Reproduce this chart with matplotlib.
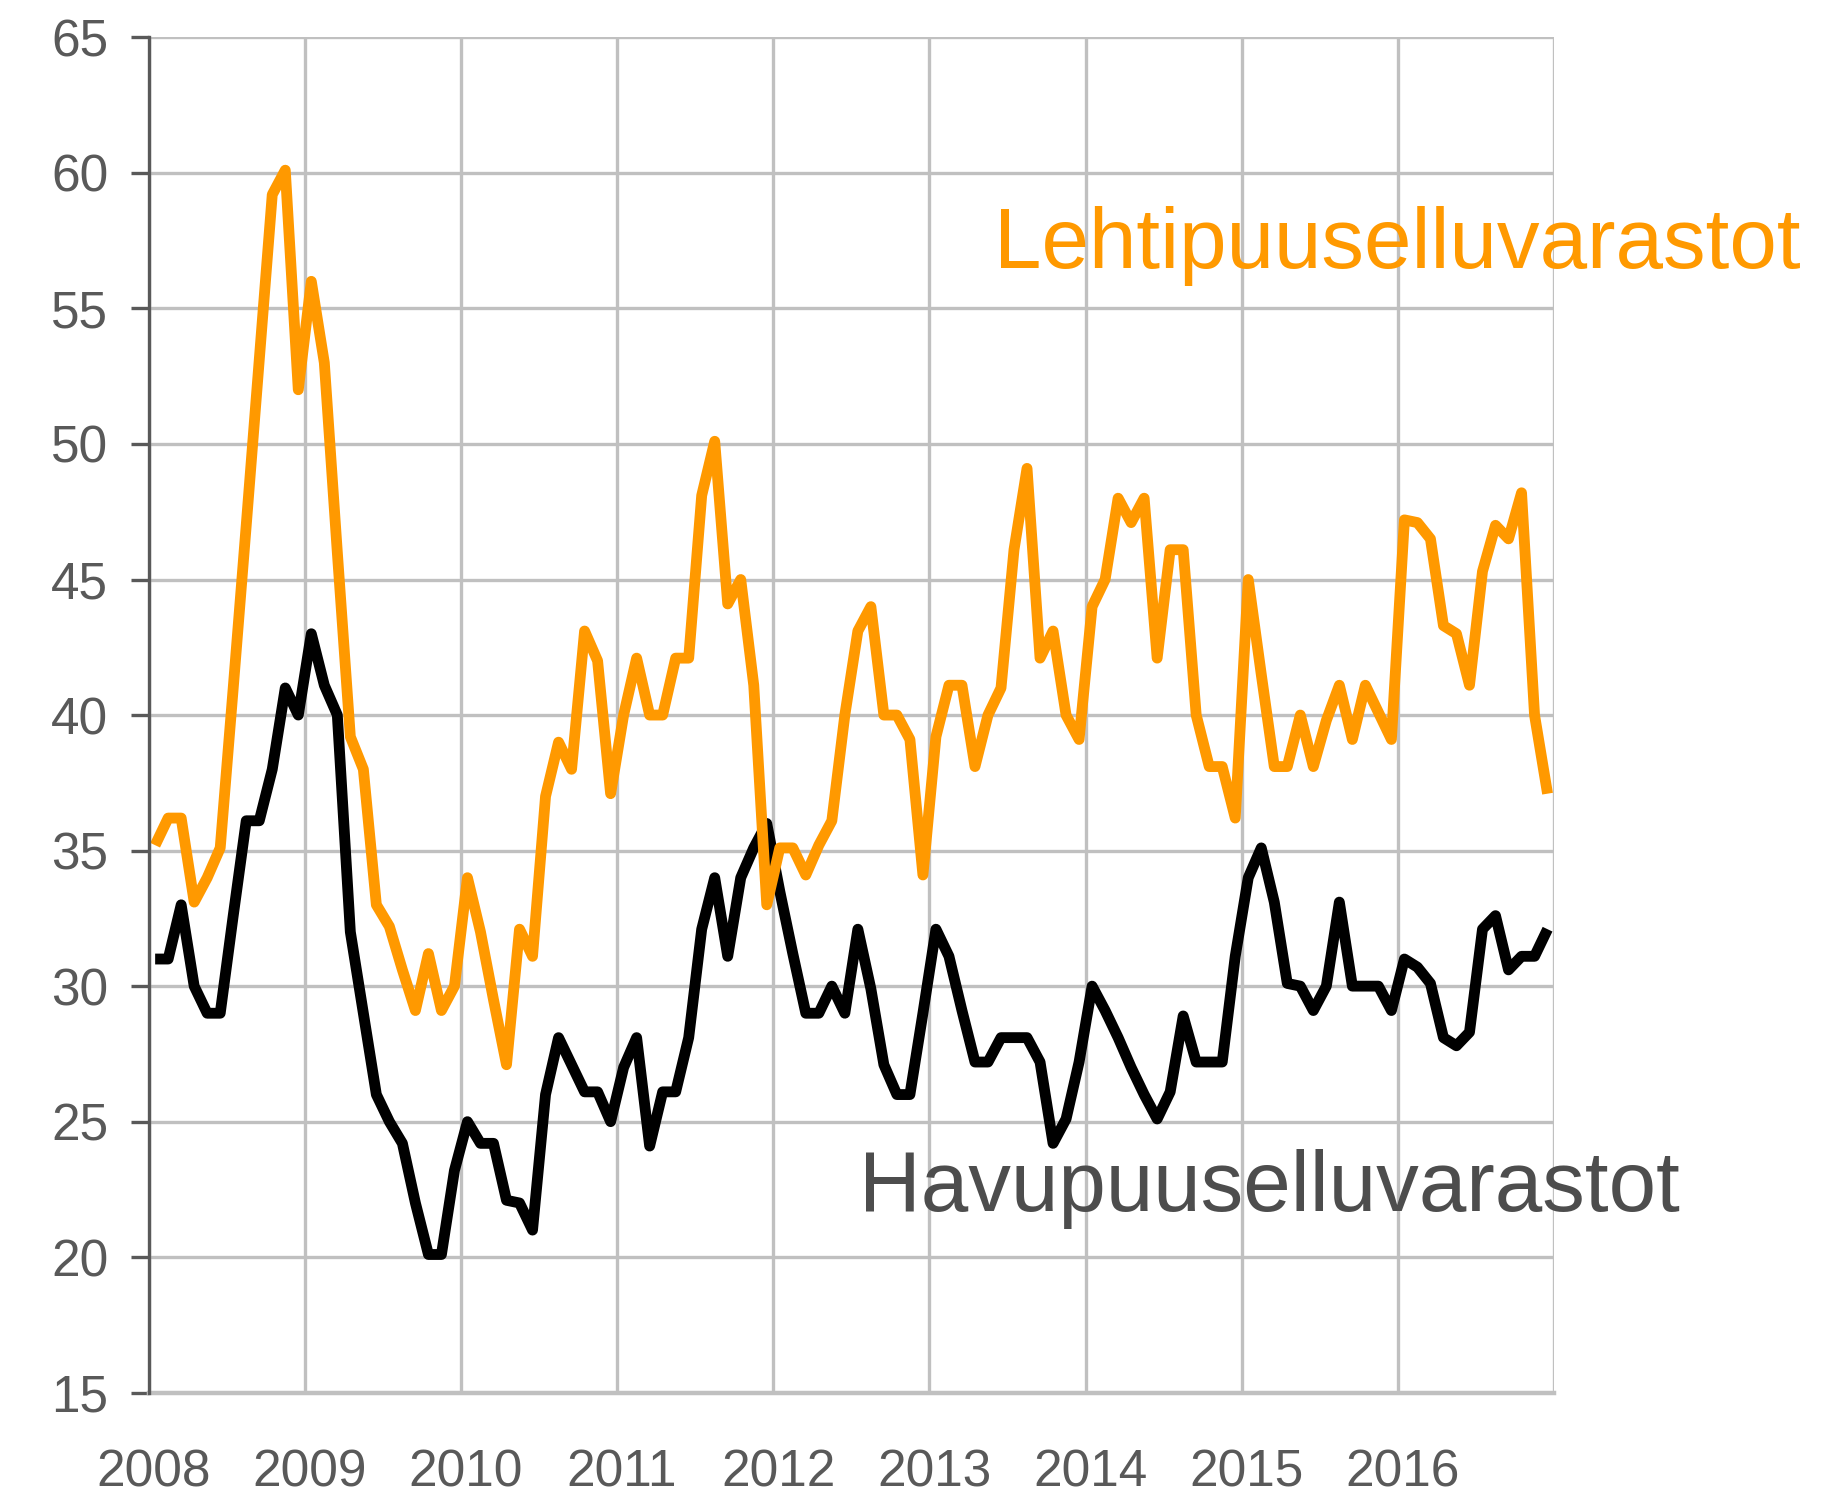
#!/usr/bin/env python3
"""
Sellutehtaiden puuvarastot 2008-2016
====================================
Kuukausittaiset lehti- ja havupuuselluvarastot viivakaaviona.

Output:
    out.png
"""
import matplotlib
matplotlib.use('Agg')
import matplotlib.pyplot as plt
from matplotlib.transforms import ScaledTranslation

# Lehtipuuselluvarastot, kuukausittain tammi 2008 - joulu 2016
lehtipuu = [
    35.2, 36.2, 36.2, 33.1, 34.0, 35.1, 41.0, 47.0, 53.1, 59.2, 60.1, 52.0,
    56.0, 53.0, 46.0, 39.2, 38.0, 33.0, 32.2, 30.6, 29.1, 31.2, 29.1, 30.0,
    34.0, 32.0, 29.5, 27.1, 32.1, 31.1, 37.0, 39.0, 38.0, 43.1, 42.0, 37.1,
    40.0, 42.1, 40.0, 40.0, 42.1, 42.1, 48.1, 50.1, 44.1, 45.0, 41.1, 33.0,
    35.1, 35.1, 34.1, 35.2, 36.1, 40.0, 43.1, 44.0, 40.0, 40.0, 39.1, 34.1,
    39.2, 41.1, 41.1, 38.1, 40.0, 41.0, 46.1, 49.1, 42.1, 43.1, 40.0, 39.1,
    44.0, 45.0, 48.0, 47.1, 48.0, 42.1, 46.1, 46.1, 40.0, 38.1, 38.1, 36.2,
    45.0, 41.5, 38.1, 38.1, 40.0, 38.1, 39.8, 41.1, 39.1, 41.1, 40.1, 39.1,
    47.2, 47.1, 46.5, 43.3, 43.0, 41.1, 45.3, 47.0, 46.5, 48.2, 40.0, 37.1,
]

# Havupuuselluvarastot, samat kuukaudet
havupuu = [
    31.0, 31.0, 33.0, 30.0, 29.0, 29.0, 32.6, 36.1, 36.1, 38.0, 41.0, 40.0,
    43.0, 41.1, 40.0, 32.0, 29.0, 26.0, 25.0, 24.2, 22.0, 20.1, 20.1, 23.2,
    25.0, 24.2, 24.2, 22.1, 22.0, 21.0, 26.0, 28.1, 27.1, 26.1, 26.1, 25.0,
    27.0, 28.1, 24.1, 26.1, 26.1, 28.1, 32.1, 34.0, 31.1, 34.0, 35.1, 36.0,
    33.5, 31.2, 29.0, 29.0, 30.0, 29.0, 32.1, 29.9, 27.1, 26.0, 26.0, 29.0,
    32.1, 31.1, 29.1, 27.2, 27.2, 28.1, 28.1, 28.1, 27.2, 24.2, 25.1, 27.2,
    30.0, 29.1, 28.1, 27.0, 26.0, 25.1, 26.1, 28.9, 27.2, 27.2, 27.2, 31.1,
    34.0, 35.1, 33.1, 30.1, 30.0, 29.1, 30.0, 33.1, 30.0, 30.0, 30.0, 29.1,
    31.0, 30.7, 30.1, 28.1, 27.8, 28.3, 32.1, 32.6, 30.6, 31.1, 31.1, 32.1,
]

years = ['2008', '2009', '2010', '2011', '2012', '2013', '2014', '2015', '2016']
y_ticks = [15, 20, 25, 30, 35, 40, 45, 50, 55, 60, 65]

ORANGE = '#ff9900'
GRID = '#c0c0c0'
TEXT = '#595959'


def main():
    plt.rcParams['font.family'] = ['Liberation Sans', 'DejaVu Sans']

    fig = plt.figure(figsize=(18.35, 14.95), dpi=100)
    ax = fig.add_axes([0.081, 0.0684, 0.7659, 0.9066])

    # kuukausipisteet kuukauden keskelle, vuosiviiva kuukauden rajalle
    months = [i + 0.5 for i in range(len(lehtipuu))]
    ax.plot(months, havupuu, color='black', lw=7.8,
            solid_joinstyle='round', solid_capstyle='butt', zorder=3)
    ax.plot(months, lehtipuu, color=ORANGE, lw=7.8,
            solid_joinstyle='round', solid_capstyle='butt', zorder=4)

    n_months = 12 * len(years)
    ax.set_xlim(0, n_months)
    ax.set_ylim(15, 65)
    ax.set_xticks(range(0, n_months + 1, 12))
    ax.set_xticklabels(years + [''])
    ax.set_yticks(y_ticks)

    ax.grid(True, color=GRID, lw=2.4, zorder=1)
    ax.set_axisbelow(True)

    for side in ('top', 'right'):
        ax.spines[side].set_visible(False)
    ax.spines['left'].set_color(TEXT)
    ax.spines['left'].set_linewidth(2.4)
    ax.spines['left'].set_zorder(5)
    ax.spines['bottom'].set_color(GRID)
    ax.spines['bottom'].set_linewidth(3.2)

    ax.tick_params(axis='y', length=13, width=2.4, color=TEXT,
                   labelsize=37, labelcolor=TEXT, pad=16)
    ax.tick_params(axis='x', length=0, labelsize=37, labelcolor=TEXT, pad=40)
    # vuosiluvut hieman oikealle kuten alkuperäisessä
    shift = ScaledTranslation(5 / 100, 0, fig.dpi_scale_trans)
    for lab in ax.get_xticklabels():
        lab.set_transform(lab.get_transform() + shift)

    ax.text(64.95, 56.5, 'Lehtipuuselluvarastot', color=ORANGE, fontsize=61.5,
            ha='left', va='baseline', zorder=6)
    ax.text(54.55, 21.7, 'Havupuuselluvarastot', color='#4d4d4d', fontsize=61.5,
            ha='left', va='baseline', zorder=6)

    fig.savefig('out.png', dpi=100, facecolor='white')


if __name__ == "__main__":
    main()
